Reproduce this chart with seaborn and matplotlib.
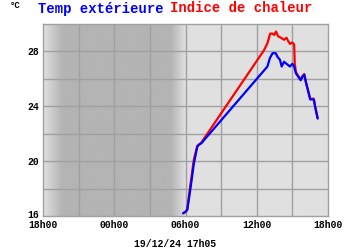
import numpy as np
import pandas as pd
import matplotlib
matplotlib.use("Agg")
import matplotlib.pyplot as plt
import matplotlib.transforms as mtransforms
import seaborn as sns

# hours since 18h00 the previous day
temp_hours = [11.8, 12.0, 12.15, 12.28, 12.48, 12.7, 12.99, 13.13, 13.33,
              18.9, 19.1, 19.33, 19.6, 19.75, 19.95, 20.1, 20.3, 20.5, 20.65,
              20.8, 21.0, 21.15, 21.3, 21.5, 21.7, 21.85, 22.0, 22.15, 22.3,
              22.5, 22.8, 22.93, 23.13]
temp_values = [16.2, 16.3, 16.45, 17.2, 18.4, 19.8, 21.05, 21.2, 21.3,
               26.9, 27.5, 27.87, 27.87, 27.6, 27.4, 26.9, 27.25, 27.1, 27.0,
               26.9, 27.1, 26.9, 26.4, 26.15, 25.9, 26.15, 26.3, 25.7, 25.2,
               24.5, 24.5, 23.9, 23.1]
heat_hours = [11.8, 12.0, 12.15, 12.28, 12.48, 12.7, 12.99, 13.13, 13.33,
              18.62, 18.9, 19.13, 19.33, 19.47, 19.63, 19.8, 20.03, 20.3, 20.5,
              20.65, 20.8, 21.0, 21.15, 21.2, 21.3, 21.5, 21.7, 21.85, 22.0,
              22.15, 22.3, 22.5, 22.8, 22.93, 23.13]
heat_values = [16.2, 16.3, 16.5, 17.4, 18.7, 20.1, 21.1, 21.2, 21.35,
               28.1, 28.6, 29.3, 29.3, 29.2, 29.45, 29.1, 29.0, 28.85, 29.0,
               28.75, 28.55, 28.65, 28.5, 27.1, 26.5, 26.2, 25.95, 26.2, 26.35,
               25.75, 25.25, 24.55, 24.55, 23.95, 23.15]
x_tick_pos = [0, 6, 12, 18, 24]
x_tick_labels = ["18h00", "00h00", "06h00", "12h00", "18h00"]
y_tick_pos = [16, 20, 24, 28]
title_temp = "Temp extérieure"
title_heat = "Indice de chaleur"
unit_label = "°C"
date_label = "19/12/24 17h05"

sns.set_theme(style="white")
plt.rcParams['font.family'] = ['Liberation Mono', 'DejaVu Sans']
plt.rcParams['font.weight'] = 'bold'

fig = plt.figure(figsize=(3.5, 2.5), dpi=100)
ax = fig.add_axes([43/350, 34/250, 285/350, 192/250])

# background with night shading gradient
xs = np.linspace(0, 24, 600)
light, dark = 224/255, 180/255
shade = np.full_like(xs, light)
m1 = xs < 1.6
shade[m1] = light - (light - dark) * (xs[m1] / 1.6)
m2 = (xs >= 1.6) & (xs < 10.8)
shade[m2] = dark
m3 = (xs >= 10.8) & (xs < 12.0)
shade[m3] = dark + (light - dark) * ((xs[m3] - 10.8) / 1.2)
img = np.tile(shade, (2, 1))
ax.imshow(img, cmap="gray", vmin=0, vmax=1, extent=[0, 24, 16, 30],
          aspect="auto", zorder=0, interpolation="bilinear")

for gx in np.arange(3, 24, 3):
    ax.axvline(gx, color="#a0a0a0", lw=1.0, zorder=1)
for gy in np.arange(18, 30, 2):
    ax.axhline(gy, color="#a0a0a0", lw=1.0, zorder=1)

df_heat = pd.DataFrame({"h": heat_hours, "v": heat_values})
df_temp = pd.DataFrame({"h": temp_hours, "v": temp_values})
sns.lineplot(data=df_heat, x="h", y="v", color="#ff0000", lw=1.6,
             estimator=None, sort=False, ax=ax, zorder=3)
sns.lineplot(data=df_temp, x="h", y="v", color="#0000ff", lw=1.6,
             estimator=None, sort=False, ax=ax, zorder=4)

ax.set_xlim(0, 24)
ax.set_ylim(16, 30)
ax.set_xticks(x_tick_pos)
ax.set_xticklabels(x_tick_labels)
ax.set_yticks(y_tick_pos)
ax.set_yticklabels([str(v) for v in y_tick_pos])
ax.tick_params(axis="both", length=0, labelsize=7, colors="#000000")
ax.tick_params(axis="x", pad=3)
ax.tick_params(axis="y", pad=3)
for lbl in ax.get_xticklabels() + ax.get_yticklabels():
    lbl.set_fontweight("bold")
# lift the bottom y label slightly so it sits above the first x label
ylbls = ax.get_yticklabels()
ylbls[0].set_transform(ylbls[0].get_transform() +
                       mtransforms.ScaledTranslation(0, 2.5/100, fig.dpi_scale_trans))
ax.set_xlabel("")
ax.set_ylabel("")
for s in ax.spines.values():
    s.set_color("#a0a0a0")
    s.set_linewidth(1.0)

fig.text(10/350, 1 - 6/250, unit_label, fontsize=6.5, fontweight="bold",
         va="center", ha="left", color="#000000")
fig.text(38/350, 1 - 8.5/250, title_temp, fontsize=10, fontweight="bold",
         va="center", ha="left", color="#0000ff")
fig.text(170/350, 1 - 8.5/250, title_heat, fontsize=10, fontweight="bold",
         va="center", ha="left", color="#ff0000")
fig.text(175/350, 1 - 244/250, date_label, fontsize=7, fontweight="bold",
         va="center", ha="center", color="#000000")

fig.savefig("out.png", dpi=100, facecolor="white")
